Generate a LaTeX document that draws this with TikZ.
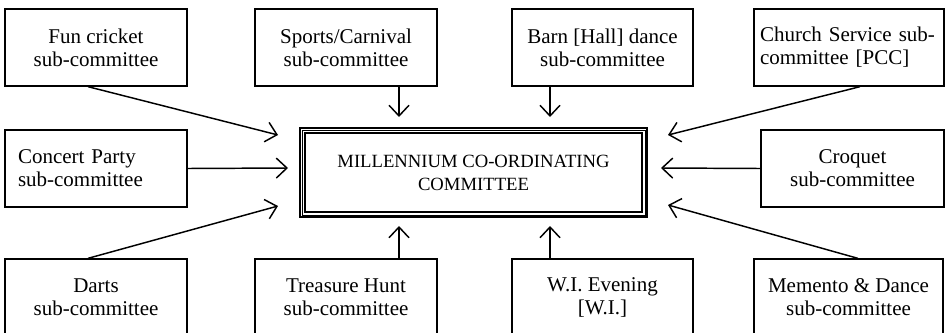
\documentclass[tikz,border=0pt]{standalone}
\usepackage{fontspec}
\setmainfont{Liberation Serif}
\usetikzlibrary{arrows.meta}

\begin{document}
\begin{tikzpicture}[x=0.75pt, y=-0.75pt,
  >={Straight Barb[length=8pt,width=15pt]},
  line width=1.1pt,
  sub/.style={draw, rectangle, line width=1pt, inner sep=0pt,
    minimum width=136.5pt, minimum height=57.75pt, align=center,
    font=\fontsize{15.75pt}{17.25pt}\selectfont},
  subleft/.style={sub, align=left, text width=#1},
  mainbox/.style={draw, rectangle, line width=1.5pt, inner sep=0pt,
    minimum width=260.25pt, minimum height=66.75pt, align=center,
    font=\fontsize{14pt}{17.25pt}\selectfont}]
  \useasboundingbox (0,0) rectangle (948,332);

  % committee in the middle
  \node[mainbox] (mcc) at (473.5,172.5) {MILLENNIUM CO-ORDINATING\\COMMITTEE};
  \draw[line width=0.6pt] ([shift={(2.3pt,-2.3pt)}]mcc.north west)
    rectangle ([shift={(-2.3pt,2.3pt)}]mcc.south east);
  \draw[line width=1.2pt] ([shift={(4.4pt,-4.4pt)}]mcc.north west)
    rectangle ([shift={(-4.4pt,4.4pt)}]mcc.south east);

  % sub-committees
  \node[sub] (fun)      at (96,47.5)    {Fun cricket\\sub-committee};
  \node[sub] (sports)   at (346,47.5)   {Sports/Carnival\\sub-committee};
  \node[sub, minimum width=135.75pt] (barn) at (602.5,47.5) {Barn [Hall] dance\\sub-committee};
  \node[subleft=133.5pt, minimum width=142.5pt, inner xsep=4.5pt] (church) at (849,47.5)
    {Church Service sub-\\committee [PCC]};
  \node[subleft=117pt, inner xsep=9.75pt] (concert) at (96,168.5)
    {Concert Party\\sub-committee};
  \node[sub, minimum width=137.25pt] (croquet) at (852.5,168.5) {Croquet\\sub-committee};
  \node[sub] (darts)    at (96,297.5)   {Darts\\sub-committee};
  \node[sub] (treasure) at (346,297.5)  {Treasure Hunt\\sub-committee};
  \node[sub, minimum width=135.75pt] (wievening) at (602.5,297.5) {W.I. Evening\\{[W.I.]}};
  \node[sub, minimum width=141.75pt] (memento) at (848.5,297.5) {Memento \& Dance\\sub-committee};

  % arrow tips
  \coordinate (tipfun)      at (278,135);
  \coordinate (tipsports)   at (399,117);
  \coordinate (tipbarn)     at (550,117);
  \coordinate (tipchurch)   at (668,135);
  \coordinate (tipconcert)  at (288,168);
  \coordinate (tipcroquet)  at (661,168);
  \coordinate (tipdarts)    at (278,206);
  \coordinate (tiptreasure) at (399,226);
  \coordinate (tipwi)       at (550,226);
  \coordinate (tipmemento)  at (668,205);

  \path[->]
    ([xshift=-6pt]fun.south)    edge (tipfun)
    (sports.south -| tipsports) edge (tipsports)
    (barn.south -| tipbarn)     edge (tipbarn)
    ([xshift=8.25pt]church.south) edge (tipchurch)
    (concert.east)              edge (tipconcert)
    (croquet.west)              edge (tipcroquet)
    ([xshift=-6pt]darts.north)  edge (tipdarts)
    (treasure.north -| tiptreasure) edge (tiptreasure)
    (wievening.north -| tipwi)  edge (tipwi)
    ([xshift=7pt]memento.north) edge (tipmemento)
    ;
\end{tikzpicture}
\end{document}
